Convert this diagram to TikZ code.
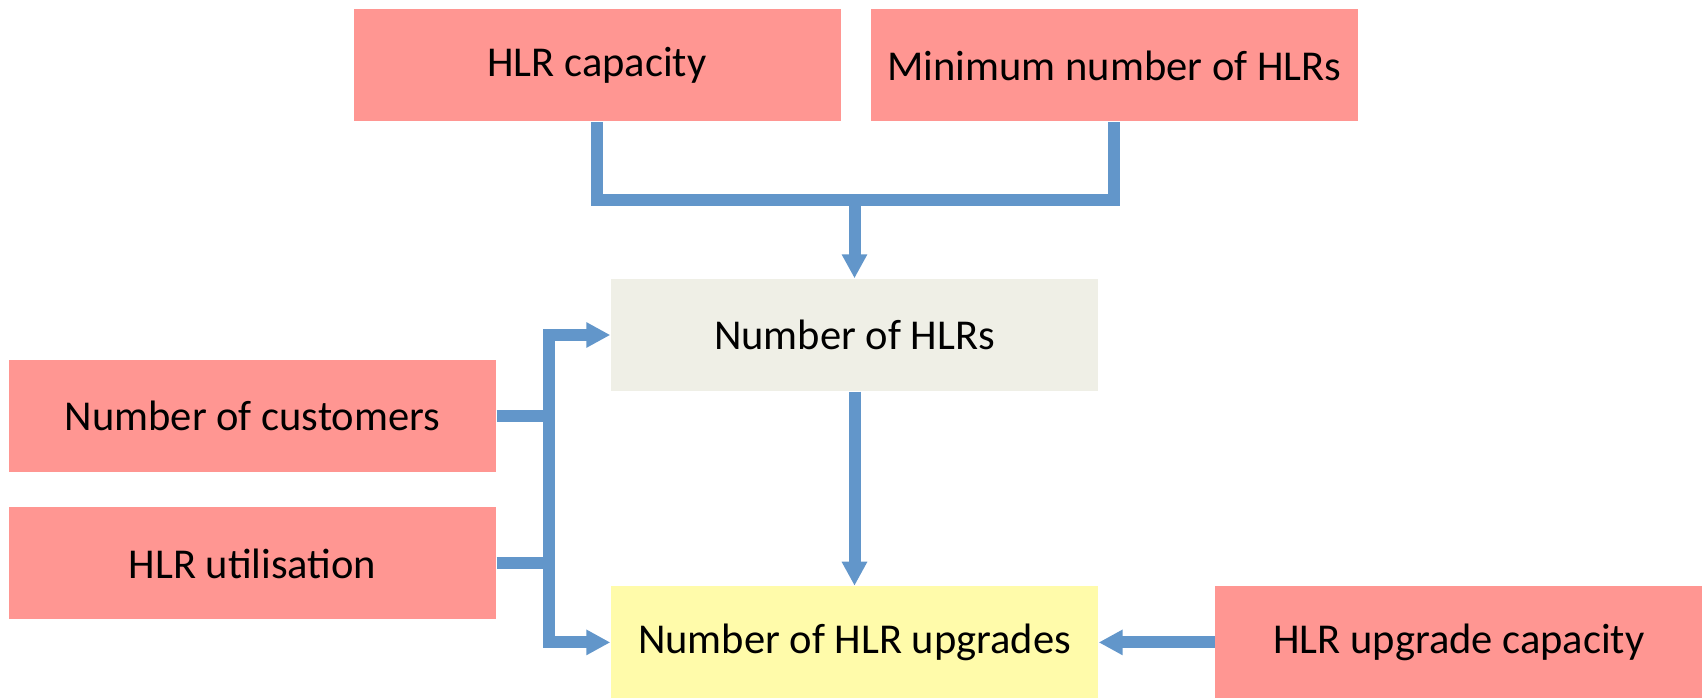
\documentclass[tikz,border=0pt]{standalone}
\usepackage{fontspec}
\setmainfont{Carlito}
\usetikzlibrary{
  arrows.meta,
  positioning,  % Function "of" (e.g. [right=of x])
}
\definecolor{boxred}{RGB}{255,150,146}
\definecolor{boxgrey}{RGB}{239,239,230}
\definecolor{boxyellow}{RGB}{255,251,170}
\definecolor{linkblue}{RGB}{98,150,202}
\def\mybwidth{4.87cm}
\def\mybheight{1.12cm}
\tikzset{
  font=\fontsize{12.1}{14}\selectfont,
  my box/.style={
    draw=none,
    minimum width=\mybwidth,
    minimum height=\mybheight,
    inner sep=0mm,
    rectangle
  },
  input/.style={
    my box,
    fill=boxred
  },
  result/.style={
    my box,
    fill=boxgrey
  },
  output/.style={
    my box,
    fill=boxyellow
  },
  link/.style={
    draw=linkblue,
    line width=1.2mm,
    line join=miter
  },
  arrow/.style={
    link,
    -{Triangle[width=2.4mm,length=2.4mm]}
  }
}
\begin{document}
\begin{tikzpicture}
\useasboundingbox (0,0) rectangle (17.05,6.98);
\node[input]  (cap)                           at (5.97,6.325) {HLR capacity};
\node[input]  (minn)   [right=0.29cm of cap]  {Minimum number of HLRs};
\node[result] (hlrs)                          at (8.545,3.63) {Number of HLRs};
\node[input]  (cust)                          at (2.525,2.82) {Number of customers};
\node[input]  (util)   [below=0.34cm of cust] {HLR utilisation};
\node[output] (upg)    [below=1.94cm of hlrs] {Number of HLR upgrades};
\node[input]  (upcap)  [right=1.16cm of upg]  {HLR upgrade capacity};
\coordinate (merge) at (hlrs.north |- 0,4.98);
\coordinate (bus) at (5.49,0);
% top inputs
\draw[link] (cap.south) |- (merge) -| (minn.south);
\draw[arrow] (merge) -- (hlrs.north);
% left inputs
\draw[link] (cust.east) -- (cust.east -| bus);
\draw[link] (util.east) -- (util.east -| bus);
\draw[arrow] (bus |- upg.west) |- (hlrs.west);
\draw[arrow] (bus |- hlrs.west) |- (upg.west);
% into the upgrades
\draw[arrow] (hlrs.south) -- (upg.north);
\draw[arrow] (upcap.west) -- (upg.east);
\end{tikzpicture}
\end{document}
